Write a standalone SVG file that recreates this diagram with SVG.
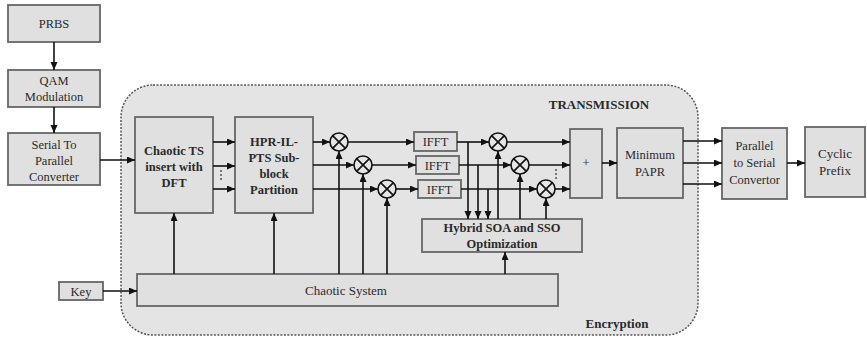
<svg xmlns="http://www.w3.org/2000/svg" width="867" height="340" viewBox="0 0 867 340" font-family="Liberation Serif, DejaVu Serif, serif">
<defs>
<marker id="ah" markerUnits="userSpaceOnUse" markerWidth="9" markerHeight="8" refX="8" refY="3.5" orient="auto">
<path d="M0,0 L8,3.5 L0,7 z" fill="#111"/>
</marker>
<style>
.box{fill:#e0e0e0;stroke:#666;stroke-width:1.8}
.t{font-family:'Liberation Serif','DejaVu Serif',serif;font-size:12.5px;fill:#2a2a2a;text-anchor:middle}
.b{font-weight:bold}
.c line{stroke:#111;stroke-width:1.6;fill:none}
.a{marker-end:url(#ah)}
.mul circle{fill:#e6e6e6;stroke:#111;stroke-width:1.6}
.mul path{stroke:#111;stroke-width:1.6}
.dot{fill:#444}
</style>
</defs>
<rect width="867" height="340" fill="#fff"/>
<g id="region">
<rect x="121" y="85" width="577" height="250" rx="32" fill="#e4e4e4" stroke="#555" stroke-width="1.5" stroke-dasharray="2,1.5"/>
<text class="t b" x="599" y="109" style="font-size:13px">TRANSMISSION</text>
<text class="t b" x="617" y="328" style="font-size:13px">Encryption</text>
</g>
<g id="prbs"><rect class="box" x="8" y="5" width="92" height="37"/><text class="t" x="54" y="28">PRBS</text></g>
<g id="qam"><rect class="box" x="8" y="70" width="92" height="37"/><text class="t" x="54" y="85">QAM</text><text class="t" x="54" y="101">Modulation</text></g>
<g id="s2p"><rect class="box" x="8" y="133" width="92" height="52"/><text class="t" x="54" y="149">Serial To</text><text class="t" x="54" y="165">Parallel</text><text class="t" x="54" y="181">Converter</text></g>
<g id="chaoticts"><rect class="box" x="135" y="117" width="78" height="96"/><text class="t b" x="174" y="155">Chaotic TS</text><text class="t b" x="174" y="171">insert with</text><text class="t b" x="174" y="187">DFT</text></g>
<g id="hpr"><rect class="box" x="235" y="117" width="78" height="96"/><text class="t b" x="274" y="146">HPR-IL-</text><text class="t b" x="274" y="162">PTS Sub-</text><text class="t b" x="274" y="178">block</text><text class="t b" x="274" y="194">Partition</text></g>
<g id="ifft1"><rect class="box" x="414" y="132" width="43" height="19"/><text class="t" x="435.5" y="146">IFFT</text></g>
<g id="ifft2"><rect class="box" x="416" y="156" width="43" height="18"/><text class="t" x="437.5" y="169.5">IFFT</text></g>
<g id="ifft3"><rect class="box" x="418" y="180" width="43" height="18"/><text class="t" x="439.5" y="193.5">IFFT</text></g>
<g id="hybrid"><rect class="box" x="422" y="219" width="160" height="33"/><text class="t b" x="502" y="232">Hybrid SOA and SSO</text><text class="t b" x="502" y="248">Optimization</text></g>
<g id="plus"><rect class="box" x="570" y="129" width="32" height="69"/><text class="t" x="586" y="167">+</text></g>
<g id="minpapr"><rect class="box" x="617" y="128" width="66" height="70"/><text class="t" x="650" y="159">Minimum</text><text class="t" x="650" y="176">PAPR</text></g>
<g id="p2s"><rect class="box" x="722" y="128" width="65" height="71"/><text class="t" x="754.5" y="150">Parallel</text><text class="t" x="754.5" y="167">to Serial</text><text class="t" x="754.5" y="184">Convertor</text></g>
<g id="cyclic"><rect class="box" x="805" y="127" width="60" height="70"/><text class="t" x="835" y="158" style="font-size:13px">Cyclic</text><text class="t" x="835" y="175" style="font-size:13px">Prefix</text></g>
<g id="key"><rect class="box" x="59" y="282" width="44" height="18"/><text class="t" x="81" y="295.5">Key</text></g>
<g id="chaoticsys"><rect class="box" x="137" y="274" width="421" height="32"/><text class="t" x="346" y="295" style="font-size:13px">Chaotic System</text></g>
<g id="connectors" class="c">
<line class="a" x1="54" y1="42" x2="54" y2="70"/>
<line class="a" x1="54" y1="107" x2="54" y2="133"/>
<line class="a" x1="100" y1="160" x2="135" y2="160"/>
<line class="a" x1="213" y1="142" x2="235" y2="142"/>
<line class="a" x1="213" y1="166" x2="235" y2="166"/>
<line class="a" x1="213" y1="189" x2="235" y2="189"/>
<line class="a" x1="313" y1="142" x2="330" y2="142"/>
<line class="a" x1="313" y1="165" x2="354" y2="165"/>
<line class="a" x1="313" y1="189" x2="378" y2="189"/>
<line class="a" x1="348" y1="142" x2="414" y2="142"/>
<line class="a" x1="372" y1="165" x2="416" y2="165"/>
<line class="a" x1="396" y1="189" x2="418" y2="189"/>
<line class="a" x1="174" y1="274" x2="174" y2="213"/>
<line class="a" x1="274" y1="274" x2="274" y2="213"/>
<line class="a" x1="339" y1="274" x2="339" y2="151"/>
<line class="a" x1="363" y1="274" x2="363" y2="174"/>
<line class="a" x1="387" y1="274" x2="387" y2="198"/>
<line class="a" x1="457" y1="142" x2="489" y2="142"/>
<line class="a" x1="459" y1="165" x2="511" y2="165"/>
<line class="a" x1="461" y1="189" x2="537" y2="189"/>
<line class="a" x1="468" y1="142" x2="468" y2="219"/>
<line class="a" x1="478" y1="165" x2="478" y2="219"/>
<line class="a" x1="488" y1="189" x2="488" y2="219"/>
<line class="a" x1="498" y1="219" x2="498" y2="151"/>
<line class="a" x1="520" y1="219" x2="520" y2="174"/>
<line class="a" x1="546" y1="219" x2="546" y2="198"/>
<line class="a" x1="507" y1="142" x2="570" y2="142"/>
<line class="a" x1="529" y1="165" x2="570" y2="165"/>
<line class="a" x1="555" y1="189" x2="570" y2="189"/>
<line class="a" x1="505" y1="274" x2="505" y2="252"/>
<line class="a" x1="602" y1="163" x2="617" y2="163"/>
<line class="a" x1="683" y1="141" x2="722" y2="141"/>
<line class="a" x1="683" y1="163" x2="722" y2="163"/>
<line class="a" x1="683" y1="184" x2="722" y2="184"/>
<line class="a" x1="787" y1="163" x2="805" y2="163"/>
<line class="a" x1="103" y1="291" x2="137" y2="291"/>
</g>
<g id="multipliers" class="mul">
<g id="m1"><circle cx="339" cy="142" r="9"/><path d="M332.6,135.6 L345.4,148.4 M345.4,135.6 L332.6,148.4"/></g>
<g id="m2"><circle cx="363" cy="165" r="9"/><path d="M356.6,158.6 L369.4,171.4 M369.4,158.6 L356.6,171.4"/></g>
<g id="m3"><circle cx="387" cy="189" r="9"/><path d="M380.6,182.6 L393.4,195.4 M393.4,182.6 L380.6,195.4"/></g>
<g id="m4"><circle cx="498" cy="142" r="9"/><path d="M491.6,135.6 L504.4,148.4 M504.4,135.6 L491.6,148.4"/></g>
<g id="m5"><circle cx="520" cy="165" r="9"/><path d="M513.6,158.6 L526.4,171.4 M526.4,158.6 L513.6,171.4"/></g>
<g id="m6"><circle cx="546" cy="189" r="9"/><path d="M539.6,182.6 L552.4,195.4 M552.4,182.6 L539.6,195.4"/></g>
</g>
<g id="dots">
<circle class="dot" cx="221" cy="171" r="0.9"/><circle class="dot" cx="221" cy="175" r="0.9"/><circle class="dot" cx="221" cy="179" r="0.9"/>
<circle class="dot" cx="556" cy="170" r="0.9"/><circle class="dot" cx="556" cy="174" r="0.9"/><circle class="dot" cx="556" cy="178" r="0.9"/>
</g>
</svg>
